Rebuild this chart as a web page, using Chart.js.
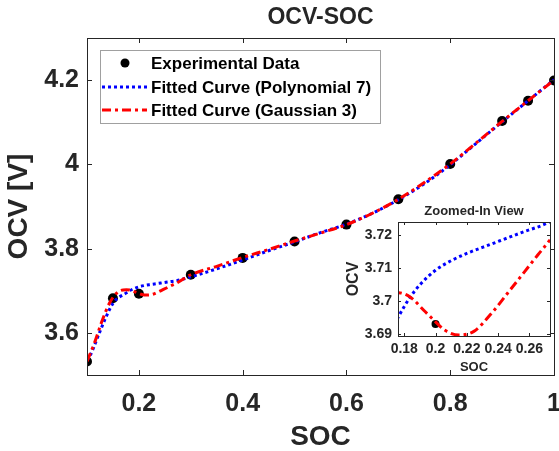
<!DOCTYPE html>
<html>
<head>
<meta charset="utf-8">
<script src="https://cdn.jsdelivr.net/npm/chart.js@4.4.0/dist/chart.umd.min.js"></script>
<style>
  html, body { margin: 0; padding: 0; background: #fff; }
  #wrap { position: relative; width: 559px; height: 451px; }
  #main { position: absolute; left: 0; top: 0; }
  #inset { position: absolute; left: 330px; top: 195px; }
</style>
</head>
<body>
<div id="wrap">
  <canvas id="main" width="559" height="451" style="width:559px;height:451px"></canvas>
  <canvas id="inset" width="229" height="180" style="width:229px;height:180px"></canvas>
</div>
<script>
// measured points
const socData = [0.1, 0.15, 0.2, 0.3, 0.4, 0.5, 0.6, 0.7, 0.8, 0.9, 0.95, 1.0];
const ocvData = [3.532, 3.682, 3.693, 3.738, 3.778, 3.817, 3.857, 3.917, 4.001, 4.103, 4.151, 4.199];

// polynomial fit (blue dotted)
const polySoc = [0.1, 0.106, 0.122, 0.135, 0.151, 0.176, 0.183, 0.19, 0.2, 0.21, 0.22, 0.235, 0.255, 0.2732,
  0.3, 0.35, 0.4, 0.45, 0.5, 0.55, 0.6, 0.65, 0.7, 0.75, 0.8, 0.85, 0.9, 0.95, 1.0];
const polyOcv = [3.535, 3.546, 3.594, 3.633, 3.672, 3.695, 3.7006, 3.7049, 3.7093, 3.7122, 3.7144, 3.7171, 3.7207, 3.724,
  3.733, 3.752, 3.773, 3.795, 3.816, 3.838, 3.858, 3.884, 3.916, 3.954, 3.999, 4.05, 4.101, 4.151, 4.201];

// gaussian fit (red dash-dot)
const gaussSoc = [0.1, 0.115, 0.128, 0.144, 0.16, 0.176, 0.1835, 0.1933, 0.2, 0.2058, 0.2149, 0.2245,
  0.2357, 0.2463, 0.257, 0.2655, 0.2732, 0.3, 0.35, 0.4, 0.45, 0.5, 0.55, 0.6, 0.65, 0.7, 0.75, 0.8,
  0.85, 0.9, 0.95, 1.0];
const gaussOcv = [3.532, 3.578, 3.625, 3.672, 3.6975, 3.7025, 3.7013, 3.6968, 3.6937, 3.6912, 3.6897, 3.6908,
  3.6962, 3.7025, 3.7089, 3.714, 3.7185, 3.738, 3.758, 3.779, 3.798, 3.818, 3.837, 3.857, 3.884, 3.917, 3.957, 4.001,
  4.051, 4.102, 4.151, 4.2];

const mainXTicks = [0.2, 0.4, 0.6, 0.8, 1];
const mainYTicks = [3.6, 3.8, 4, 4.2];
const insetXTicks = [0.18, 0.2, 0.22, 0.24, 0.26];
const insetYTicks = [3.69, 3.7, 3.71, 3.72];

const legendLabels = ['Experimental Data', 'Fitted Curve (Polynomial 7)', 'Fitted Curve (Gaussian 3)'];

const FONT = '"Liberation Sans", Arial, Helvetica, sans-serif';
const INK = '#262626';

const pts = (xs, ys) => xs.map((x, i) => ({ x, y: ys[i] }));

function makeDatasets(dotRadius) {
  return [
    { label: legendLabels[0], data: pts(socData, ocvData), showLine: false,
      pointRadius: dotRadius, pointBackgroundColor: '#000', pointBorderWidth: 0, order: 3 },
    { label: legendLabels[1], data: pts(polySoc, polyOcv), showLine: true, borderColor: '#0000ff',
      borderWidth: 3, borderDash: [3, 3], pointRadius: 0, cubicInterpolationMode: 'monotone', order: 2 },
    { label: legendLabels[2], data: pts(gaussSoc, gaussOcv), showLine: true, borderColor: '#ff0000',
      borderWidth: 3, borderDash: [9, 4, 3, 4], pointRadius: 0, cubicInterpolationMode: 'monotone', order: 1 }
  ];
}

function scaleOpts(o) {
  return {
    type: 'linear', min: o.min, max: o.max,
    afterBuildTicks: s => { s.ticks = o.ticks.map(v => ({ value: v })); },
    afterFit: s => {
      if (o.width) s.width = o.width;
      if (o.height) s.height = o.height;
      s.paddingLeft = 0; s.paddingRight = 0; s.paddingTop = 0; s.paddingBottom = 0;
    },
    grid: { display: false, drawTicks: false },
    border: { display: false },
    ticks: { padding: o.pad, color: INK, font: { family: FONT, size: o.size, weight: 'bold' },
      callback: v => String(v), autoSkip: false, maxRotation: 0 },
    title: { display: true, text: o.title, color: INK, padding: o.titlePad,
      font: { family: FONT, size: o.titleSize, weight: 'bold', lineHeight: 1 } }
  };
}

// box, inward tick marks, white background
function framePlugin(tickLen, fillArea) {
  return {
    id: 'frame',
    beforeDraw(chart) {
      const { ctx, chartArea: a } = chart;
      ctx.save();
      ctx.fillStyle = '#fff';
      if (fillArea) ctx.fillRect(a.left, a.top, a.right - a.left, a.bottom - a.top);
      else ctx.fillRect(0, 0, chart.width, chart.height);
      ctx.restore();
    },
    afterDatasetsDraw(chart) {
      const { ctx, chartArea: a, scales: { x, y } } = chart;
      ctx.save();
      ctx.strokeStyle = INK;
      ctx.lineWidth = 1;
      ctx.beginPath();
      x.ticks.forEach(t => {
        const px = Math.round(x.getPixelForValue(t.value)) + 0.5;
        ctx.moveTo(px, a.bottom); ctx.lineTo(px, a.bottom - tickLen);
        ctx.moveTo(px, a.top); ctx.lineTo(px, a.top + tickLen);
      });
      y.ticks.forEach(t => {
        const py = Math.round(y.getPixelForValue(t.value)) + 0.5;
        ctx.moveTo(a.left, py); ctx.lineTo(a.left + tickLen, py);
        ctx.moveTo(a.right, py); ctx.lineTo(a.right - tickLen, py);
      });
      ctx.stroke();
      ctx.strokeRect(Math.round(a.left) + 0.5, Math.round(a.top) + 0.5,
        Math.round(a.right - a.left), Math.round(a.bottom - a.top));
      ctx.restore();
    }
  };
}

function titlePlugin(text, size, cy) {
  return {
    id: 'topTitle',
    afterDraw(chart) {
      const { ctx, chartArea: a } = chart;
      ctx.save();
      ctx.fillStyle = INK;
      ctx.font = `bold ${size}px ${FONT}`;
      ctx.textAlign = 'center';
      ctx.textBaseline = 'middle';
      ctx.fillText(text, (a.left + a.right) / 2, cy);
      ctx.restore();
    }
  };
}

const legendBox = {
  id: 'legendBox',
  afterDraw(chart) {
    const { ctx } = chart;
    const ds = chart.data.datasets;
    const left = 100.5, top = 50.5, w = 280, h = 73;
    ctx.save();
    ctx.fillStyle = '#fff';
    ctx.fillRect(left, top, w, h);
    ctx.strokeStyle = '#a0a0a0';
    ctx.lineWidth = 1;
    ctx.strokeRect(left, top, w, h);
    ctx.font = `bold 17px ${FONT}`;
    ctx.textBaseline = 'middle';
    const rows = [63, 87, 110];
    ds.forEach((d, i) => {
      const cy = rows[i];
      if (i === 0) {
        ctx.fillStyle = '#000';
        ctx.beginPath();
        ctx.arc(125, cy, 4.5, 0, Math.PI * 2);
        ctx.fill();
      } else {
        ctx.strokeStyle = d.borderColor;
        ctx.lineWidth = d.borderWidth;
        ctx.setLineDash(d.borderDash);
        ctx.beginPath();
        ctx.moveTo(102, cy); ctx.lineTo(147, cy);
        ctx.stroke();
        ctx.setLineDash([]);
      }
      ctx.fillStyle = '#000';
      ctx.fillText(d.label, 151, cy + 1);
    });
    ctx.restore();
  }
};

new Chart(document.getElementById('main'), {
  type: 'scatter',
  data: { datasets: makeDatasets(5) },
  options: {
    responsive: false, animation: false,
    layout: { padding: { top: 38, right: 4, left: 0, bottom: 0 } },
    plugins: { legend: { display: false }, tooltip: { enabled: false } },
    scales: {
      x: scaleOpts({ min: 0.1, max: 1, ticks: mainXTicks, size: 25, pad: 14, height: 76,
        title: 'SOC', titleSize: 28, titlePad: { top: 0, bottom: 0 } }),
      y: scaleOpts({ min: 3.5, max: 4.3, ticks: mainYTicks, size: 25, pad: 8, width: 87,
        title: 'OCV [V]', titleSize: 28, titlePad: { top: 5, bottom: 0 } })
    }
  },
  plugins: [framePlugin(5, false), titlePlugin('OCV-SOC', 23, 18), legendBox]
});

new Chart(document.getElementById('inset'), {
  type: 'scatter',
  data: { datasets: makeDatasets(4) },
  options: {
    responsive: false, animation: false,
    layout: { padding: { top: 27, right: 9, left: 0, bottom: 0 } },
    plugins: { legend: { display: false }, tooltip: { enabled: false } },
    scales: {
      x: scaleOpts({ min: 0.176, max: 0.2732, ticks: insetXTicks, size: 14, pad: 5, height: 39,
        title: 'SOC', titleSize: 13, titlePad: { top: 0, bottom: 1 } }),
      y: scaleOpts({ min: 3.6894, max: 3.7239, ticks: insetYTicks, size: 14, pad: 6, width: 68,
        title: 'OCV', titleSize: 16, titlePad: { top: 16, bottom: 0 } })
    }
  },
  plugins: [framePlugin(3, true), titlePlugin('Zoomed-In View', 13, 16)]
});
</script>
</body>
</html>
